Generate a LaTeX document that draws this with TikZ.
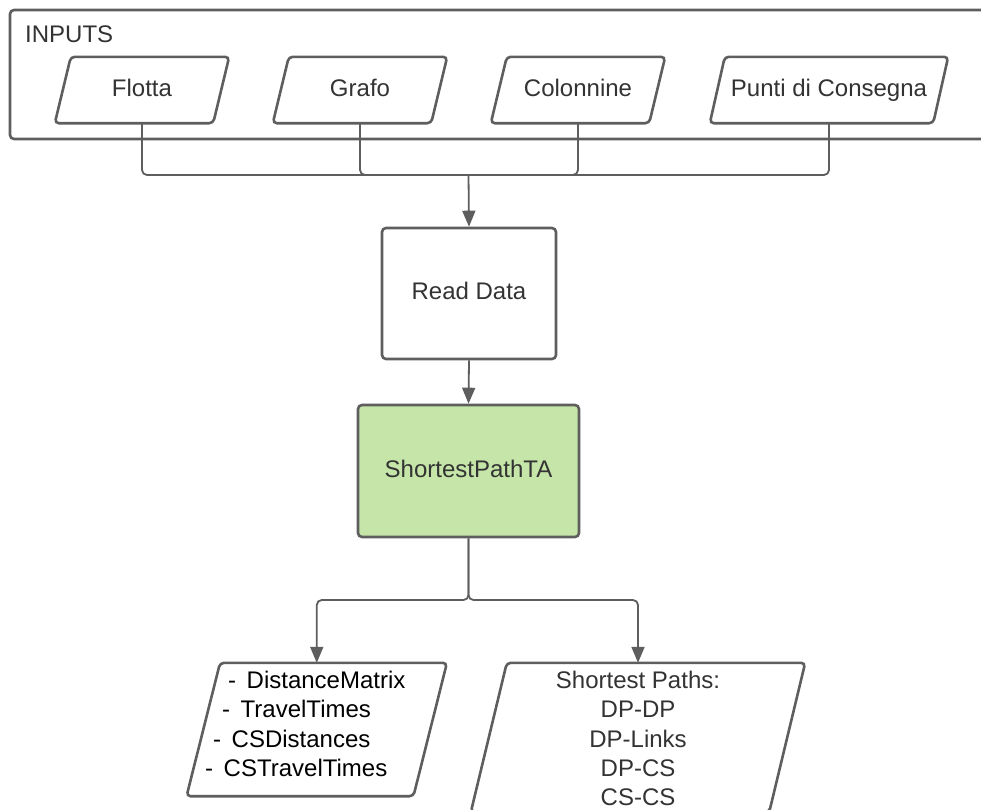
\documentclass[tikz,border=0pt]{standalone}
\usepackage{fontspec}
\setmainfont{Liberation Sans}
\usetikzlibrary{arrows.meta}
\definecolor{lineC}{HTML}{5E5E5E}
\definecolor{txtC}{HTML}{333333}
\definecolor{greenF}{HTML}{C5E6A8}
\newcommand{\pgmshape}[2]{\draw[outline] ([xshift=#2]#1.north west) -- ([xshift=#2]#1.north east) -- ([xshift=-#2]#1.south east) -- ([xshift=-#2]#1.south west) -- cycle;}
\newcommand{\dashitem}[1]{-\hspace{10.5pt}#1}
\begin{document}
\begin{tikzpicture}[x=1pt,y=-1pt,
  every node/.style={font=\fontsize{24}{29.3}\selectfont, text=txtC, inner sep=0pt, text height=17pt, text depth=5pt},
  outline/.style={draw=lineC, line width=2.6pt, rounded corners=4pt},
  conn/.style={draw=lineC, line width=1.8pt, rounded corners=5pt},
  arr/.style={conn, -{Triangle[length=16pt,width=13pt]}},
  body/.style 2 args={minimum width=#1, minimum height=#2}]
\clip (0,0) rectangle (981,809);
\fill[white] (0,0) rectangle (981,809);

% INPUTS container
\draw[outline] (10,10) rectangle (1000,139);
\node[anchor=base west] (inputs) at (25,42) {INPUTS};

% input parallelograms
\node[body={158}{66}] (flotta) at (142,90) {Flotta};
\pgmshape{flotta}{8}
\node[body={158}{66}] (grafo) at (360,90) {Grafo};
\pgmshape{grafo}{8}
\node[body={158}{66}] (colon) at (578,90) {Colonnine};
\pgmshape{colon}{8}
\node[body={223}{66}] (punti) at (829,90) {Punti di Consegna};
\pgmshape{punti}{7.5}

\coordinate (j1) at (468.5,175);
\node[outline, body={174}{131}] (read) at (469,293.5) {Read Data};
\node[outline, fill=greenF, body={221}{132}] (spta) at (468.5,471) {ShortestPathTA};

\draw[conn] (flotta.south) |- (j1);
\draw[conn] (grafo.south) |- (j1);
\draw[conn] (colon.south) |- (j1);
\draw[conn] (punti.south) |- (j1);
\draw[arr] (j1) -- (read.north);
\draw[arr] (read.south) -- (spta.north);

% output parallelograms
\node[body={226.5}{133}] (lout) at (316.75,729.5) {};
\pgmshape{lout}{16.75}
\node[body={298}{149}] (rout) at (638,737.5) {};
\pgmshape{rout}{18}

\coordinate (j2) at (468.5,600);
\draw[arr] (spta.south) -- (j2) -| (lout.north);
\draw[arr] (spta.south) -- (j2) -| (rout.north);

% left text
\node[anchor=base west, text=black] (l1) at (228,688) {\dashitem{DistanceMatrix}};
\node[anchor=base west, text=black] (l2) at (222,717) {\dashitem{TravelTimes}};
\node[anchor=base west, text=black] (l3) at (213,747) {\dashitem{CSDistances}};
\node[anchor=base west, text=black] (l4) at (205,776) {\dashitem{CSTravelTimes}};

% right text
\node[anchor=base] (r1) at (638,688) {Shortest Paths:};
\node[anchor=base] (r2) at (638,717) {DP-DP};
\node[anchor=base] (r3) at (638,747) {DP-Links};
\node[anchor=base] (r4) at (638,776) {DP-CS};
\node[anchor=base] (r5) at (638,805) {CS-CS};
\end{tikzpicture}
\end{document}
